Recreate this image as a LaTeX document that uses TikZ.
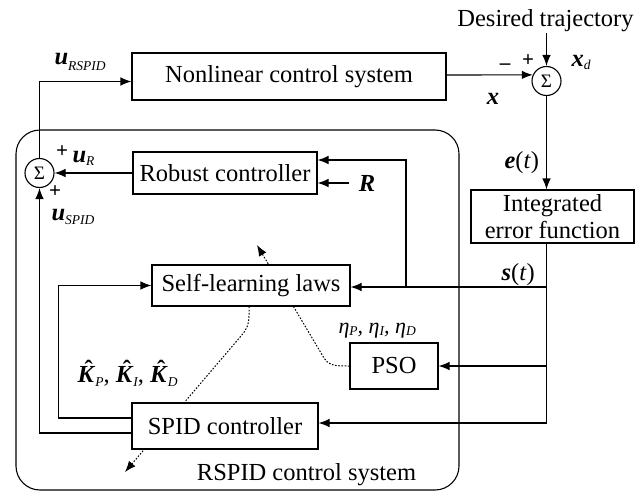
\documentclass[tikz,border=0pt]{standalone}
\usepackage{fontspec}
\setmainfont{Liberation Serif}
\usetikzlibrary{arrows.meta,calc,backgrounds}

% bold italic variable and lowered italic subscript
\newcommand\bvar[1]{\textbf{\textit{#1}}}
\newcommand\lowsub[2][6pt]{\raisebox{-#1}{\fontsize{13.5}{14}\selectfont\itshape #2}}
\newcommand\Khat[1]{\rlap{\hspace{7pt}\raisebox{4.5pt}{\bfseries ˆ}}\bvar{K}\lowsub[4pt]{#1}}
\newcommand\etasub[1]{η\lowsub[2pt]{#1}}

\begin{document}
\begin{tikzpicture}[x=1pt,y=-1pt,
  font=\fontsize{24.5}{27}\selectfont,
  line width=1.1pt,
  block/.style={draw, fill=white, inner sep=0pt, align=center},
  sumnode/.style={draw, circle, fill=white, minimum size=29pt, inner sep=0pt,
    font=\fontsize{19}{19}\selectfont},
  lbl/.style={inner sep=0pt},
  sign/.style={inner sep=0pt, font=\fontsize{21}{21}\selectfont\bfseries},
  arr/.style={-{Latex[length=11pt,width=8.5pt]}},
  dotline/.style={line width=1pt, dash pattern=on 1.6pt off 1.6pt},
  dotarr/.style={dotline, -{Latex[length=11pt,width=8.5pt]}}]

\useasboundingbox (0,0) rectangle (636,492);

% blocks
\node[block, minimum width=314pt, minimum height=47pt] (nl) at (289,76.5) {Nonlinear control system};
\node[block, minimum width=184pt, minimum height=42pt] (robust) at (225,173) {Robust controller};
\node[block, minimum width=198pt, minimum height=41pt] (learn) at (251,285.5) {Self-learning laws};
\node[block, minimum width=88pt, minimum height=46pt] (pso) at (394,366) {PSO};
\node[block, minimum width=186pt, minimum height=46pt] (spid) at (225,426) {SPID controller};
\node[block, minimum width=163pt, minimum height=53pt] (integ) at (552.5,216.5) {Integrated\\error function};

% summing junctions
\node[sumnode] (sumL) at (39.5,173) {Σ};
\node[sumnode] (sumR) at (546.5,81) {Σ};

% texts
\node[lbl] (des) at (545.5,21) {Desired trajectory};
\node[lbl, anchor=base] (rspid) at (306.5,480) {RSPID control system};
\node[lbl, anchor=base west] (uRSPID) at (54,65) {\bvar{u}\lowsub{RSPID}};
\node[lbl, anchor=base west] (uR) at (72,162) {\bvar{u}\lowsub[3pt]{R}};
\node[lbl, anchor=base west] (uSPID) at (51,220) {\bvar{u}\lowsub[4pt]{SPID}};
\node[sign] (pR) at (62,152) {+};
\node[sign] (pS) at (55,192) {+};
\node[sign] (pD) at (528,61) {+};
\node[sign] (mX) at (505,67) {–};
\node[lbl] (xl) at (493,99) {\bvar{x}};
\node[lbl, anchor=base west] (xd) at (571,67) {\bvar{x}\lowsub[3pt]{d}};
\node[lbl, anchor=base west] (el) at (504,168) {\bvar{e}(\textit{t})};
\node[lbl, anchor=base west] (sl) at (501,280) {\bvar{s}(\textit{t})};
\node[inner sep=0pt, inner xsep=9pt] (Rl) at (367,183) {\bvar{R}};
\node[lbl, anchor=base west] (kl) at (77,382) {\Khat{P}, \Khat{I}, \Khat{D}};
\node[lbl, anchor=base west, font=\fontsize{22}{24}\selectfont\itshape] (etal) at (338,333)
  {\etasub{P}, \etasub{I}, \etasub{D}};

% taps on the s(t) line
\coordinate (j1) at (546.5,287);
\coordinate (j2) at (546.5,366);
\coordinate (j3) at (546.5,423);
\coordinate (jr) at (406,287);

% frame and dotted tuning paths, behind the blocks
\begin{scope}[on background layer]
  \draw[line width=1.1pt, rounded corners=24pt] (16,130) rectangle (459,490);
  \draw[dotarr] ($(learn.south)+(-2,0)$) -- ++(0,8)
    .. controls (249,326) and (246,330) .. (241,336) -- (125,472);
  \draw[dotarr] (pso.west) .. controls (336,366) and (329,366) .. (324,358) -- (257,245);
\end{scope}

% connectors
\draw[arr] (sumL.north) |- ($(nl.west)+(0,5)$);
\draw[arr] (robust.west) -- (sumL.east);
\draw[arr] ($(spid.west)+(0,7)$) -| (sumL.south);
\draw[arr] ($(spid.west)+(0,-8)$) -- ++(-73,0) |- (learn.west);
\draw[arr] (des.south -| sumR.north) -- (sumR.north);
\draw[arr] ($(nl.east)+(0,-1.5)$) -- (sumR.156);
\draw[arr] (sumR.south) -- (sumR.south |- integ.north);
\draw (integ.south -| j1) -- (j3);
\draw[arr] (j1) -- (j1 -| learn.east);
\draw[arr] (jr) |- ($(robust.east)+(0,-13)$);
\draw[arr] (j2) -- (j2 -| pso.east);
\draw[arr] (j3) -- (j3 -| spid.east);
\draw[arr] (Rl.west) -- (Rl.west -| robust.east);

\end{tikzpicture}
\end{document}
